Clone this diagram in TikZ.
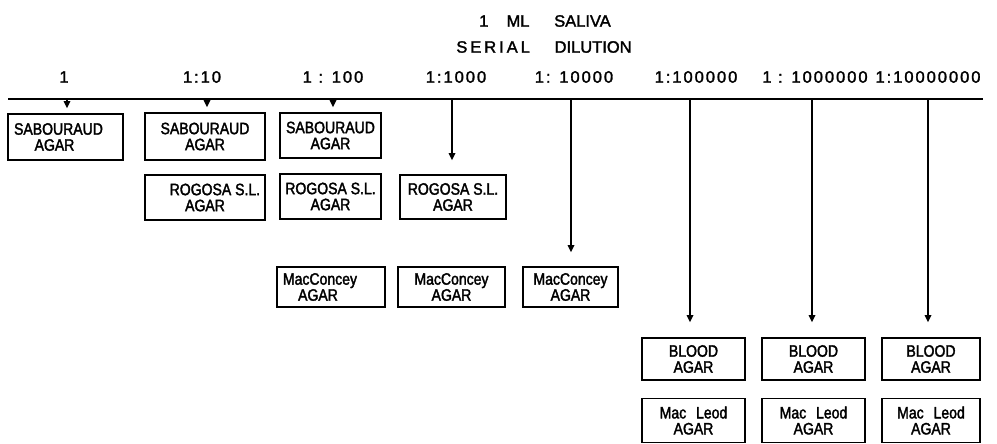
\documentclass[tikz,border=0pt]{standalone}
\usepackage{fontspec}
\setmainfont{Liberation Sans}
\newfontfamily\boxfont[FakeStretch=0.85,FakeBold=2]{Liberation Sans}
\newfontfamily\digfont[LetterSpace=12,FakeBold=1.8]{Liberation Sans}
\newfontfamily\headfont[FakeBold=1.8]{Liberation Sans}
\newfontfamily\spacedfont[LetterSpace=18,FakeBold=1.8]{Liberation Sans}
\usetikzlibrary{arrows.meta}
\tikzset{
  box/.style={draw, line width=1.6pt, inner sep=1pt, align=center,
    font=\boxfont\fontsize{16.5}{16}\selectfont},
  dil/.style={font=\digfont\fontsize{16.5}{18}\selectfont, inner sep=0pt},
  head/.style={font=\headfont\fontsize{16.5}{18}\selectfont, inner sep=0pt},
  arr/.style={line width=1.6pt, -{Triangle[length=7pt,width=6.5pt]}},
  main/.style={line width=2.4pt}
}
\begin{document}
\begin{tikzpicture}[x=1pt,y=-1pt]
\useasboundingbox (0,0) rectangle (997,444);
% headings
\node[head] (h1) at (545,21) {1\hspace{1.1em}ML\hspace{1.5em}SALIVA};
\node[head] (h2) at (544,47) {{\spacedfont SERIAL}\hspace{1.5em}DILUTION};
% dilution labels
\node[dil] (d1) at (64,77) {1};
\node[dil] (d2) at (202,77) {1:10};
\node[dil] (d3) at (333,77) {1 : 100};
\node[dil] (d4) at (456,77) {1:1000};
\node[dil] (d5) at (574,77) {1: 10000};
\node[dil] (d6) at (696,77) {1:100000};
\node[dil] (d7) at (815,77) {1 : 1000000};
\node[dil] (d8) at (928,77) {1:10000000};
% main line
\coordinate (L0) at (8,99);
\coordinate (L1) at (983,99);
\draw[main] (L0) -- (L1);
% boxes
\node[box, minimum width=115pt, minimum height=46pt] (S1) at (65.5,137) {SABOURAUD\hspace*{14pt}\\AGAR\hspace*{22pt}};
\node[box, minimum width=120pt, minimum height=47pt] (S2) at (205,136.5) {SABOURAUD\\AGAR};
\node[box, minimum width=101pt, minimum height=45pt] (S3) at (330.5,135.5) {SABOURAUD\\AGAR};
\node[box, minimum width=120pt, minimum height=45pt] (R2) at (205,197.5) {\hspace*{1.2em}ROGOSA S.L.\\AGAR};
\node[box, minimum width=101pt, minimum height=45pt] (R3) at (330.5,196.5) {ROGOSA S.L.\\AGAR};
\node[box, minimum width=106pt, minimum height=44pt] (R4) at (453,197) {ROGOSA S.L.\\AGAR};
\node[box, minimum width=108pt, minimum height=40pt] (M3) at (331,287) {MacConcey\hspace*{22pt}\\AGAR\hspace*{26pt}};
\node[box, minimum width=107pt, minimum height=40pt] (M4) at (451.5,287) {MacConcey\\AGAR};
\node[box, minimum width=95pt, minimum height=40pt] (M5) at (570.5,287) {MacConcey\\AGAR};
\node[box, minimum width=103pt, minimum height=42pt] (B6) at (693.5,359) {BLOOD\\AGAR};
\node[box, minimum width=103pt, minimum height=42pt] (B7) at (813.5,359) {BLOOD\\AGAR};
\node[box, minimum width=98pt, minimum height=42pt] (B8) at (931,359) {BLOOD\\AGAR};
\node[box, minimum width=103pt, minimum height=44pt] (E6) at (693.5,420.5) {Mac\hspace{0.6em}Leod\\AGAR};
\node[box, minimum width=103pt, minimum height=44pt] (E7) at (813.5,420.5) {Mac\hspace{0.6em}Leod\\AGAR};
\node[box, minimum width=98pt, minimum height=44pt] (E8) at (931,420.5) {Mac\hspace{0.6em}Leod\\AGAR};
% arrow starts on the line
\coordinate (t1) at (67,99);
\coordinate (t2) at (207,99);
\coordinate (t3) at (333,99);
\coordinate (t4) at (452,99);
\coordinate (t5) at (571,99);
\coordinate (t6) at (690,99);
\coordinate (t7) at (812,99);
\coordinate (t8) at (928,99);
\draw[arr, shorten >=5pt] (t1) -- (t1 |- S1.north);
\draw[arr, shorten >=5pt] (t2) -- (t2 |- S2.north);
\draw[arr, shorten >=5pt] (t3) -- (t3 |- S3.north);
\draw[arr, shorten >=14pt] (t4) -- (t4 |- R4.north);
\draw[arr, shorten >=14pt] (t5) -- (t5 |- M5.north);
\draw[arr, shorten >=15pt] (t6) -- (t6 |- B6.north);
\draw[arr, shorten >=15pt] (t7) -- (t7 |- B7.north);
\draw[arr, shorten >=15pt] (t8) -- (t8 |- B8.north);
\end{tikzpicture}
\end{document}
